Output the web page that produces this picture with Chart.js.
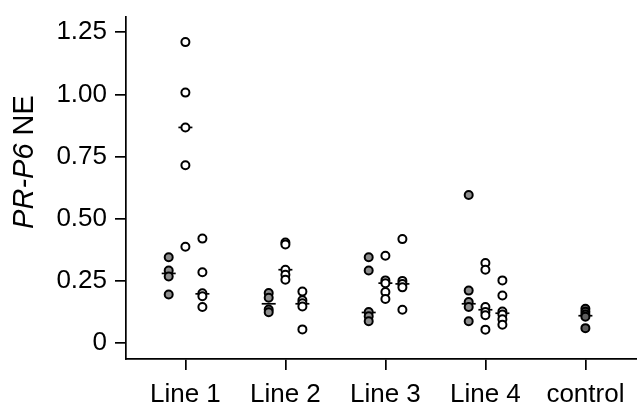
<!DOCTYPE html>
<html>
<head>
<meta charset="utf-8">
<script src="https://cdn.jsdelivr.net/npm/chart.js@4.4.1/dist/chart.umd.min.js"></script>
<style>
  html, body { margin: 0; padding: 0; background: #fff; overflow: hidden; }
  canvas { display: block; }
</style>
</head>
<body>
<canvas id="grafico" width="637" height="406" style="width:637px;height:406px"></canvas>
<script>
// Categorías y valores
const categories = ['Line 1', 'Line 2', 'Line 3', 'Line 4', 'control'];
const yTicks = [0, 0.25, 0.5, 0.75, 1.0, 1.25];

// Puntos grises (primera columna de cada línea)
const filledValues = [
    [0.345, 0.292, 0.268, 0.195],
    [0.201, 0.182, 0.135, 0.124],
    [0.345, 0.292, 0.125, 0.108, 0.088],
    [0.595, 0.211, 0.165, 0.145, 0.088]
];
// Puntos blancos (columna central)
const openAValues = [
    [1.21, 1.007, 0.867, 0.715, 0.387],
    [0.404, 0.396, 0.295, 0.275, 0.255],
    [0.351, 0.252, 0.241, 0.205, 0.177],
    [0.322, 0.295, 0.145, 0.125, 0.112, 0.054]
];
// Puntos blancos (columna derecha)
const openBValues = [
    [0.42, 0.285, 0.2, 0.188, 0.145],
    [0.207, 0.172, 0.16, 0.147, 0.055],
    [0.418, 0.25, 0.238, 0.224, 0.134],
    [0.252, 0.191, 0.127, 0.115, 0.096, 0.074]
];
const controlValues = [0.138, 0.126, 0.115, 0.106, 0.06];

// Medianas (líneas horizontales)
const filledMedians = [0.28, 0.158, 0.123, 0.158];
const openAMedians = [0.867, 0.295, 0.241, 0.134];
const openBMedians = [0.198, 0.158, 0.238, 0.12];
const controlMedian = 0.11;

// desplazamiento horizontal de cada columna respecto a la categoría
const colOffset = { filled: -0.167, openA: 0, openB: 0.17 };

function puntos(groups, offset) {
    const out = [];
    groups.forEach((vals, i) => {
        vals.forEach(v => out.push({ x: i + 1 + offset, y: v }));
    });
    return out;
}
function medianas(meds, offset) {
    return meds.map((v, i) => ({ x: i + 1 + offset, y: v }));
}

const puntoBase = {
    pointRadius: 4,
    pointHoverRadius: 4,
    pointBorderColor: '#000',
    pointBorderWidth: 2,
    showLine: false
};
const lineaBase = {
    pointStyle: 'line',
    pointRadius: 7,
    pointHoverRadius: 7,
    pointBorderColor: '#000',
    pointBorderWidth: 1.7,
    showLine: false
};

const datasets = [
    Object.assign({ data: puntos(filledValues, colOffset.filled), pointBackgroundColor: '#8e8e8e' }, puntoBase),
    Object.assign({ data: puntos(openAValues, colOffset.openA), pointBackgroundColor: '#ffffff' }, puntoBase),
    Object.assign({ data: puntos(openBValues, colOffset.openB), pointBackgroundColor: '#ffffff' }, puntoBase),
    Object.assign({ data: controlValues.map(v => ({ x: 5, y: v })), pointBackgroundColor: '#5e5e5e' }, puntoBase),
    Object.assign({ data: medianas(filledMedians, colOffset.filled) }, lineaBase),
    Object.assign({ data: medianas(openAMedians, colOffset.openA) }, lineaBase),
    Object.assign({ data: medianas(openBMedians, colOffset.openB) }, lineaBase),
    Object.assign({ data: [{ x: 5, y: controlMedian }] }, lineaBase)
];

// título del eje Y con partes en cursiva
const tituloY = {
    id: 'tituloY',
    afterDraw(chart) {
        const ctx = chart.ctx;
        const partes = [
            { t: 'PR-P6', f: 'italic 29px "Liberation Sans", Arial, sans-serif' },
            { t: ' NE', f: '29px "Liberation Sans", Arial, sans-serif' }
        ];
        let total = 0;
        partes.forEach(p => { ctx.font = p.f; p.w = ctx.measureText(p.t).width; total += p.w; });
        ctx.save();
        ctx.translate(25, 162);
        ctx.rotate(-Math.PI / 2);
        ctx.fillStyle = '#000';
        ctx.textBaseline = 'middle';
        let x = -total / 2;
        partes.forEach(p => { ctx.font = p.f; ctx.fillText(p.t, x, 0); x += p.w; });
        ctx.restore();
    }
};

const ctx = document.getElementById('grafico').getContext('2d');
new Chart(ctx, {
    type: 'scatter',
    data: { datasets: datasets },
    options: {
        responsive: false,
        animation: false,
        events: [],
        layout: { autoPadding: false, padding: { top: 17, right: 0, left: 0, bottom: 0 } },
        plugins: { legend: { display: false }, tooltip: { enabled: false } },
        scales: {
            x: {
                type: 'linear',
                min: 0.406,
                max: 5.516,
                afterBuildTicks: s => { s.ticks = categories.map((c, i) => ({ value: i + 1 })); },
                afterFit: s => { s.height = 47; s.paddingRight = 0; s.paddingLeft = 0; },
                ticks: {
                    autoSkip: false,
                    maxRotation: 0,
                    padding: 9,
                    color: '#000',
                    font: { family: '"Liberation Sans", Arial, sans-serif', size: 26 },
                    callback: (v, i) => categories[i]
                },
                grid: { drawOnChartArea: false, tickLength: 11, color: '#000', lineWidth: 1.7 },
                border: { color: '#000', width: 1.7 }
            },
            y: {
                min: -0.064,
                max: 1.311,
                afterBuildTicks: s => { s.ticks = yTicks.map(v => ({ value: v })); },
                afterFit: s => { s.width = 126; s.paddingTop = 0; s.paddingBottom = 0; },
                ticks: {
                    padding: 8,
                    color: '#000',
                    font: { family: '"Liberation Sans", Arial, sans-serif', size: 26 },
                    callback: v => (v === 0 ? '0' : v.toFixed(2))
                },
                grid: { drawOnChartArea: false, tickLength: 11, color: '#000', lineWidth: 1.7 },
                border: { color: '#000', width: 1.7 }
            }
        }
    },
    plugins: [tituloY]
});
</script>
</body>
</html>
